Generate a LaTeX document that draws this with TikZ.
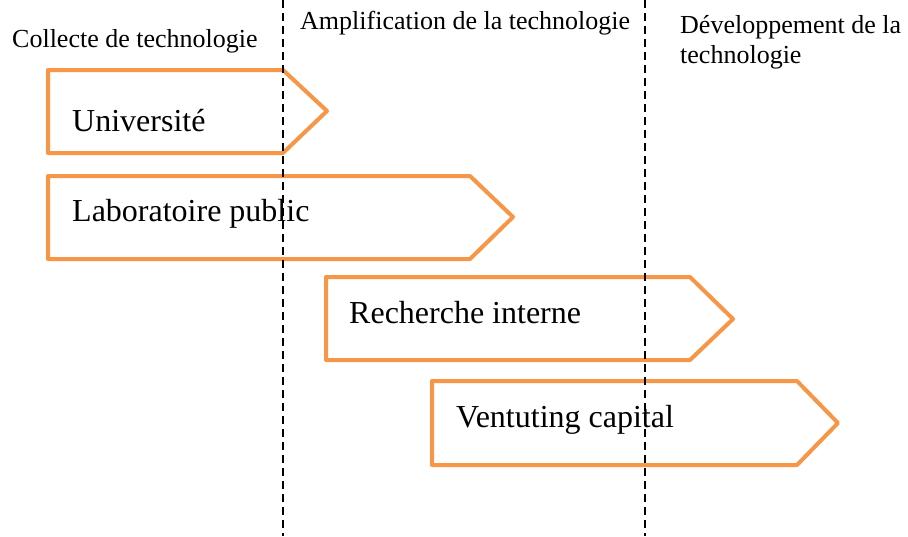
\documentclass[tikz,border=0pt]{standalone}
\usepackage{fontspec}
\setmainfont{Liberation Serif}
\definecolor{orangeoffice}{HTML}{F79646}
\begin{document}
\begin{tikzpicture}[x=1pt,y=-1pt,
        etape/.style={draw=orangeoffice,line width=4pt,line join=round,fill=white},
        phase/.style={font=\fontsize{26}{30}\selectfont,anchor=base west,inner sep=0pt},
        acteur/.style={font=\fontsize{32}{36}\selectfont,anchor=base west,inner sep=0pt},
        frontiere/.style={line width=1.5pt,dash pattern=on 8pt off 5pt}]
        \useasboundingbox (0,0) rectangle (908,536);
        \draw[etape] (48,70) -- (283,70) -- (327,111) -- (283,153) -- (48,153) -- cycle;
        \draw[etape] (48,176) -- (470,176) -- (513,217) -- (470,259) -- (48,259) -- cycle;
        \draw[etape] (326,277) -- (690,277) -- (733,319) -- (690,360) -- (326,360) -- cycle;
        \draw[etape] (432,381) -- (797,381) -- (838,423) -- (797,465) -- (432,465) -- cycle;
        \node[acteur] (univ) at (72,131) {Université};
        \node[acteur] (labo) at (72,221) {Laboratoire public};
        \node[acteur] (interne) at (349,323) {Recherche interne};
        \node[acteur] (capital) at (456,427) {Ventuting capital};
        \node[phase] (collecte) at (12,47) {Collecte de technologie};
        \node[phase] (ampli) at (300,29) {Amplification de la technologie};
        \node[phase] (devel) at (680,33) {Développement de la};
        \node[phase] (devel2) at (680,63) {technologie};
        \draw[frontiere] (283,0) -- (283,536);
        \draw[frontiere] (645,0) -- (645,536);
    \end{tikzpicture}
\end{document}
